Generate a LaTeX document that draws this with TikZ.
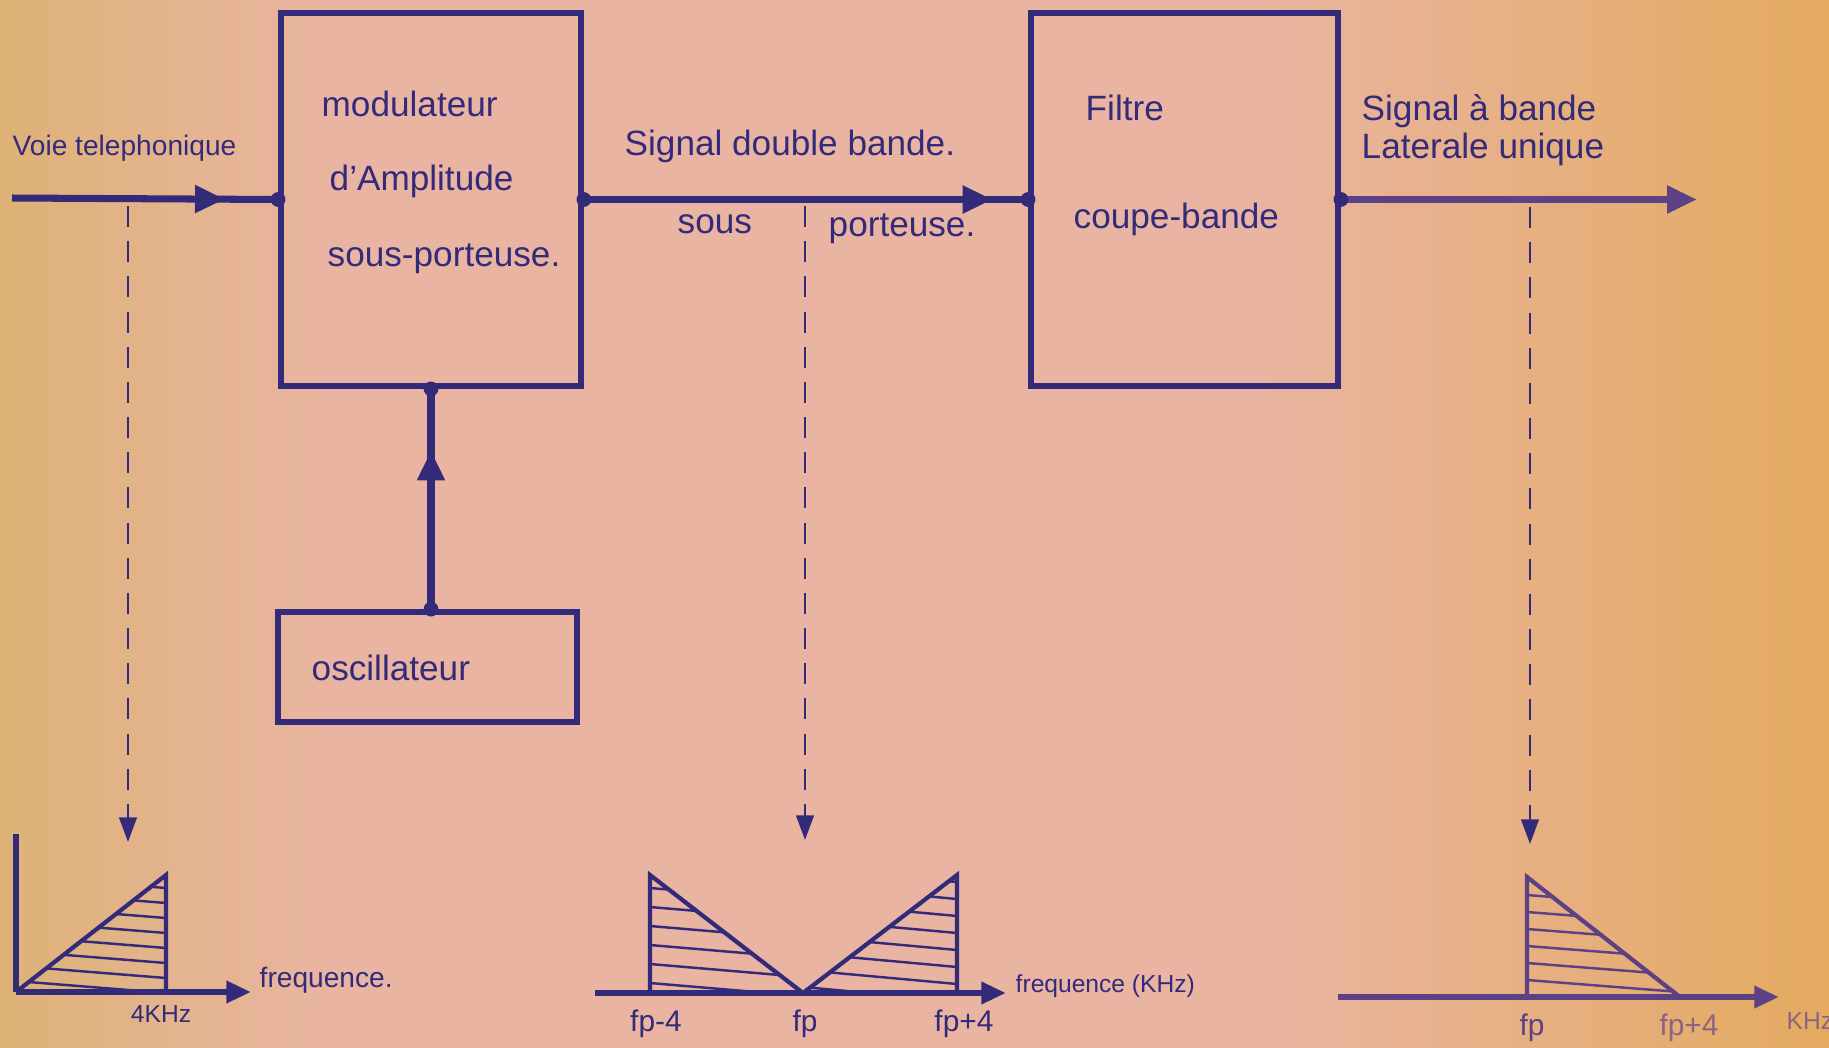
\documentclass[tikz,border=0pt]{standalone}
\usepackage{fontspec}
\setmainfont{Liberation Sans}
\usetikzlibrary{arrows.meta,decorations.markings}
\definecolor{ink}{RGB}{52,42,122}
\definecolor{inkm}{RGB}{92,66,132}
\definecolor{inkl}{RGB}{140,100,130}
\definecolor{paperL}{RGB}{222,178,118}
\definecolor{paperM}{RGB}{233,181,162}
\definecolor{paperR}{RGB}{228,170,96}
\begin{document}
\begin{tikzpicture}[x=0.01cm,y=-0.01cm,
  blk/.style={draw=ink,line width=1.6pt,inner sep=0pt},
  lbl/.style={text=ink,font=\fontsize{10}{12}\selectfont,anchor=mid west,inner sep=0pt},
  small/.style={text=ink,font=\fontsize{8}{10}\selectfont,inner sep=0pt},
  wire/.style={color=ink,line width=2pt},
  jdot/.style={circle,fill=ink,inner sep=0pt,minimum size=4.2pt},
  midarrow/.style={postaction={decorate},decoration={markings,mark=at position #1 with {\arrow[color=ink]{Triangle[length=8.5pt,width=7.5pt]}}}},
  probe/.style={color=ink,line width=0.7pt,dash pattern=on 6pt off 4pt,-{Triangle[length=7pt,width=5pt]}},
  hatch/.style={draw=ink,line width=0.7pt},
  tri/.style={draw=ink,line width=1.2pt,line join=miter},
  axis/.style={color=ink,line width=1.8pt,-{Triangle[length=7pt,width=6pt]}}
]
\fill[paperM] (0,0) rectangle (1829,1048);
\shade[left color=paperL,right color=paperM] (0,0) rectangle (330,1048);
\shade[left color=paperM,right color=paperR] (1250,0) rectangle (1829,1048);
\useasboundingbox (0,0) rectangle (1829,1048);

% blocks
\node[blk,minimum width=3.00cm,minimum height=3.73cm] (mod) at (431,199.5) {};
\node[blk,minimum width=3.07cm,minimum height=3.73cm] (fil) at (1184.5,199.5) {};
\node[blk,minimum width=2.99cm,minimum height=1.10cm] (osc) at (427.5,667) {};

% block texts
\node[lbl] (tmod1) at (321,107) {modulateur};
\node[lbl] (tmod2) at (329,181) {d'Amplitude};
\node[lbl] (tmod3) at (327,257) {sous-porteuse.};
\node[lbl] (tfil1) at (1085,111) {Filtre};
\node[lbl] (tfil2) at (1073,219) {coupe-bande};
\node[lbl] (tosc) at (311,671) {oscillateur};

% signal labels
\node[lbl,font=\fontsize{8}{10}\selectfont] (tin) at (12,146) {Voie telephonique};
\node[lbl] (tdsb) at (624,146) {Signal double bande.};
\node[lbl] (tsous) at (677,224) {sous};
\node[lbl] (tport) at (828,227) {porteuse.};
\node[lbl] (tout1) at (1361,111) {Signal à bande};
\node[lbl] (tout2) at (1361,149) {Laterale unique};

% wires
\coordinate (in) at (12,198);
\coordinate (out) at (1697,199.5);
\draw[wire,midarrow=0.8] (in) -- (mod.west);
\draw[wire,midarrow=0.92] (mod.east) -- (fil.west);
\draw[wire,color=inkm,-{Triangle[length=8.5pt,width=7.5pt]}] (fil.east) -- (out);
\draw[wire,midarrow=0.72] (mod.south |- osc.north) -- (mod.south);

\foreach \p in {mod.west,mod.east,fil.west,fil.east,mod.south}
  \node[jdot] at (\p) {};
\node[jdot] (oscdot) at (mod.south |- osc.north) {};

% probes
\coordinate (pa1) at (128,206);
\coordinate (pa2) at (128,842);
\coordinate (pb1) at (805,206);
\coordinate (pb2) at (805,840);
\coordinate (pc1) at (1530,207);
\coordinate (pc2) at (1530,844);
\draw[probe] (pa1) -- (pa2);
\draw[probe] (pb1) -- (pb2);
\draw[probe] (pc1) -- (pc2);

% ---- left spectrum
\coordinate (A) at (16,992);
\coordinate (B) at (166,875);
\coordinate (C) at (166,992);
\coordinate (Atop) at (16,834);
\coordinate (Aend) at (251,992);
\begin{scope}
  \clip (A) -- (B) -- (C) -- cycle;
  \foreach \y in {876,891,...,990} \draw[hatch] (16,\y) -- (166,\y+12);
\end{scope}
\draw[tri] (A) -- (B) -- (C);
\draw[color=ink,line width=1.8pt] (Atop) -- (A);
\draw[axis] (A) -- (Aend);
\node[lbl,font=\fontsize{8}{10}\selectfont] (tfq1) at (259,978) {frequence.};
\node[small,font=\fontsize{7}{9}\selectfont] (t4k) at (161,1014) {4KHz};

% ---- middle spectrum
\coordinate (M0) at (595,993);
\coordinate (Mend) at (1006,993);
\coordinate (D) at (650,875);
\coordinate (E) at (650,993);
\coordinate (F) at (803,993);
\coordinate (G) at (957,875);
\coordinate (H) at (957,993);
\begin{scope}
  \clip (D) -- (E) -- (F) -- cycle;
  \foreach \y in {888,907,...,990} \draw[hatch] (650,\y) -- (803,\y+13);
\end{scope}
\begin{scope}
  \clip (F) -- (G) -- (H) -- cycle;
  \foreach \y in {868,885,...,990} \draw[hatch] (803,\y) -- (957,\y+14);
\end{scope}
\draw[tri] (E) -- (D) -- (F) -- (G) -- (H);
\draw[axis] (M0) -- (Mend);
\node[lbl,font=\fontsize{7}{9}\selectfont] (tfq2) at (1015,983) {frequence (KHz)};
\node[small,font=\fontsize{8.5}{10}\selectfont] (tfm) at (656,1024) {fp-4};
\node[small,font=\fontsize{8.5}{10}\selectfont] (tfp) at (805,1024) {fp};
\node[small,font=\fontsize{8.5}{10}\selectfont] (tfpp) at (964,1024) {fp+4};

% ---- right spectrum
\coordinate (R0) at (1338,997);
\coordinate (Rend) at (1779,997);
\coordinate (I) at (1527,877);
\coordinate (J) at (1527,997);
\coordinate (K) at (1680,997);
\begin{scope}
  \clip (I) -- (J) -- (K) -- cycle;
  \foreach \y in {878,895,...,990} \draw[hatch,draw=inkm] (1527,\y) -- (1680,\y+12);
\end{scope}
\draw[tri,draw=inkm] (J) -- (I) -- (K);
\draw[axis,color=inkm] (R0) -- (Rend);
\node[small,text=inkm,font=\fontsize{8.5}{10}\selectfont] (tfr) at (1532,1028) {fp};
\node[small,text=inkl,font=\fontsize{8.5}{10}\selectfont] (tfrp) at (1689,1028) {fp+4};
\node[small,text=inkl,font=\fontsize{7}{9}\selectfont,anchor=west] (tkhz) at (1786,1021) {KHz};
\end{tikzpicture}
\end{document}
